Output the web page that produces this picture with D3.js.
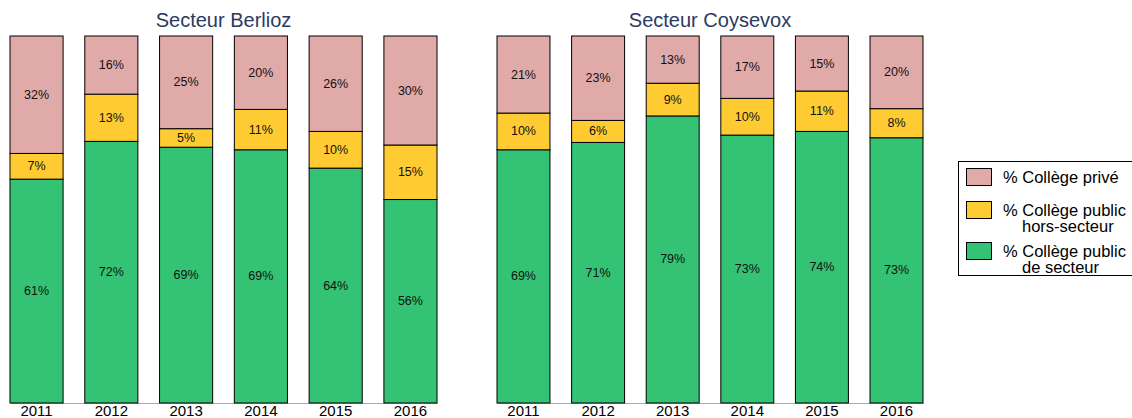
<!DOCTYPE html>
<html>
<head>
<meta charset="utf-8">
<script src="https://cdn.jsdelivr.net/npm/d3@7"></script>
<style>
  body { margin: 0; background: #fff; }
  svg { font-family: "Liberation Sans", Arial, sans-serif; }
  .axis text { font-size: 15px; fill: #000; }
  .axis .domain { stroke: #aaa; }
  .bar-label { font-size: 12.5px; fill: #111; }
  .title { font-size: 20px; fill: #2a3a62; }
  .legend-text { font-size: 16.5px; fill: #000; }
</style>
</head>
<body>
<svg id="chart" width="1132" height="418"></svg>
<script>
const years = ['2011', '2012', '2013', '2014', '2015', '2016'];

const berliozSecteur = [61, 72, 69, 69, 64, 56];
const berliozHors = [7, 13, 5, 11, 10, 15];
const berliozPrive = [32, 16, 25, 20, 26, 30];

const coysevoxSecteur = [69, 71, 79, 73, 74, 73];
const coysevoxHors = [10, 6, 9, 10, 11, 8];
const coysevoxPrive = [21, 23, 13, 17, 15, 20];

const seriesKeys = ['secteur', 'hors', 'prive'];
const colors = {secteur: '#34c274', hors: '#ffcb33', prive: '#e0aaa9'};

const svg = d3.select('#chart');

function buildRows(secteur, hors, prive) {
    return years.map((y, i) => {
        const total = secteur[i] + hors[i] + prive[i];
        return {
            year: y,
            secteur: secteur[i], hors: hors[i], prive: prive[i],
            total: total
        };
    });
}

function createPanel(title, rows, x0, x1) {
    const top = 36, bottom = 403;

    const x = d3.scaleBand()
        .domain(years)
        .range([x0, x1])
        .paddingInner(0.29)
        .paddingOuter(0);

    const y = d3.scaleLinear()
        .domain([0, 1])
        .range([bottom, top]);

    const stack = d3.stack()
        .keys(seriesKeys)
        .value((d, key) => d[key] / d.total);

    const layers = stack(rows);

    const g = svg.append('g');

    g.append('g')
        .attr('class', 'axis')
        .attr('transform', `translate(0,${bottom})`)
        .call(d3.axisBottom(x).tickSize(0).tickPadding(2.5));

    layers.forEach(layer => {
        const lg = g.append('g');
        lg.selectAll('rect')
            .data(layer)
            .enter()
            .append('rect')
            .attr('x', d => x(d.data.year))
            .attr('y', d => y(d[1]))
            .attr('width', x.bandwidth())
            .attr('height', d => y(d[0]) - y(d[1]))
            .attr('fill', colors[layer.key])
            .attr('stroke', '#000')
            .attr('stroke-width', 1);

        lg.selectAll('text')
            .data(layer)
            .enter()
            .append('text')
            .attr('class', 'bar-label')
            .attr('text-anchor', 'middle')
            .attr('dominant-baseline', 'central')
            .attr('x', d => x(d.data.year) + x.bandwidth() / 2)
            .attr('y', d => (y(d[0]) + y(d[1])) / 2)
            .text(d => d.data[layer.key] + '%');
    });

    g.append('text')
        .attr('class', 'title')
        .attr('text-anchor', 'middle')
        .attr('x', (x0 + x1) / 2)
        .attr('y', 27)
        .text(title);
}

createPanel('Secteur Berlioz', buildRows(berliozSecteur, berliozHors, berliozPrive), 10, 437);
createPanel('Secteur Coysevox', buildRows(coysevoxSecteur, coysevoxHors, coysevoxPrive), 497, 923);

// legend
const legend = svg.append('g');
legend.append('rect')
    .attr('x', 958.5)
    .attr('y', 161.5)
    .attr('width', 190)
    .attr('height', 114)
    .attr('fill', '#fff')
    .attr('stroke', '#000');

const legendItems = [
    {key: 'prive', lines: ['% Collège privé'], top: 168},
    {key: 'hors', lines: ['% Collège public', 'hors-secteur'], top: 201},
    {key: 'secteur', lines: ['% Collège public', 'de secteur'], top: 242}
];

legendItems.forEach(item => {
    legend.append('rect')
        .attr('x', 966.5)
        .attr('y', item.top + 0.5)
        .attr('width', 25)
        .attr('height', 17)
        .attr('fill', colors[item.key])
        .attr('stroke', '#000');
    item.lines.forEach((line, i) => {
        legend.append('text')
            .attr('class', 'legend-text')
            .attr('x', i === 0 ? 1003 : 1022)
            .attr('y', item.top + 15 + i * 16)
            .text(line);
    });
});
</script>
</body>
</html>
